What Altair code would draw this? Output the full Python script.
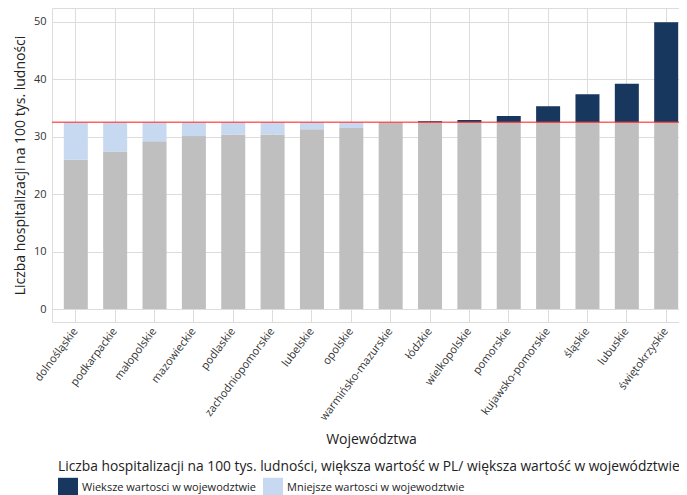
import altair as alt
import pandas as pd

regions = ["dolnośląskie", "podkarpackie", "małopolskie", "mazowieckie", "podlaskie",
           "zachodniopomorskie", "lubelskie", "opolskie", "warmińsko-mazurskie", "łódzkie",
           "wielkopolskie", "pomorskie", "kujawsko-pomorskie", "śląskie", "lubuskie",
           "świętokrzyskie"]
values = [26.0, 27.4, 29.2, 30.1, 30.4, 30.4, 31.3, 31.5, 32.5, 32.7,
          32.9, 33.6, 35.3, 37.4, 39.2, 49.9]
national = 32.5

cat_more = "Wieksze wartosci w wojewodztwie"
cat_less = "Mniejsze wartosci w wojewodztwie"

df = pd.DataFrame({"region": regions, "value": values})
df["base"] = df["value"].clip(upper=national)
df["lo"] = df["value"].clip(upper=national)
df["hi"] = df["value"].clip(lower=national)
df["cat"] = [cat_more if v > national else cat_less for v in values]
diff = df[df["value"] != national]

FONT = "Open Sans"
yscale = alt.Scale(domain=[-2.26, 52.4], nice=False, zero=False)
xenc = alt.X("region:N", sort=regions,
             scale=alt.Scale(paddingInner=0.39, paddingOuter=0.3),
             axis=alt.Axis(title="Województwa", labelAngle=-53, labelAlign="right",
                           labelBaseline="middle", labelPadding=7, ticks=False, domain=False,
                           grid=True, gridColor="#dcdcdc", bandPosition=0.5,
                           labelFontSize=11, labelColor="#333", titleFontSize=14,
                           titleFontWeight="normal", titleColor="#222", titlePadding=10))

base = alt.Chart(df).mark_bar(color="#bfbfbf").encode(
    x=xenc,
    y=alt.Y("base:Q", scale=yscale,
            axis=alt.Axis(title="Liczba hospitalizacji na 100 tys. ludności",
                          values=list(range(0, 55, 5)),
                          labelExpr="datum.value % 10 == 0 ? datum.label : ''",
                          ticks=False, domain=False, grid=True, gridColor="#dcdcdc",
                          labelFontSize=11, labelColor="#333", labelPadding=6,
                          titleFontSize=14, titleFontWeight="normal", titleColor="#222",
                          titlePadding=6)),
    y2=alt.datum(0),
)

top = alt.Chart(diff).mark_bar().encode(
    x=alt.X("region:N", sort=regions),
    y=alt.Y("lo:Q", scale=yscale),
    y2="hi:Q",
    color=alt.Color("cat:N",
                    scale=alt.Scale(domain=[cat_more, cat_less], range=["#17375e", "#c6d9f1"]),
                    legend=alt.Legend(
                        title="Liczba hospitalizacji na 100 tys. ludności, większa wartość w PL/ większa wartość w województwie",
                        orient="none", legendX=6, legendY=452, direction="horizontal",
                        symbolType="square", symbolSize=400, symbolStrokeWidth=0,
                        labelFontSize=11, labelColor="#222", labelOffset=4,
                        columnPadding=6, titleFontSize=13.8, titleFontWeight="normal",
                        titleColor="#222", titlePadding=4, titleLimit=700, labelLimit=300)),
)

rule = alt.Chart(pd.DataFrame({"pl": [national]})).mark_rule(
    color="#ff3030", opacity=0.75, strokeWidth=1.5).encode(y=alt.Y("pl:Q", scale=yscale))

chart = alt.layer(base, top, rule).properties(
    width=638, height=314,
    autosize=alt.AutoSizeParams(type="none"),
    padding={"left": 44, "top": 0, "right": -11, "bottom": 173},
).configure(font=FONT).configure_view(stroke="#dcdcdc")

chart.save("out.html", embed_options={"renderer": "svg", "actions": False})
